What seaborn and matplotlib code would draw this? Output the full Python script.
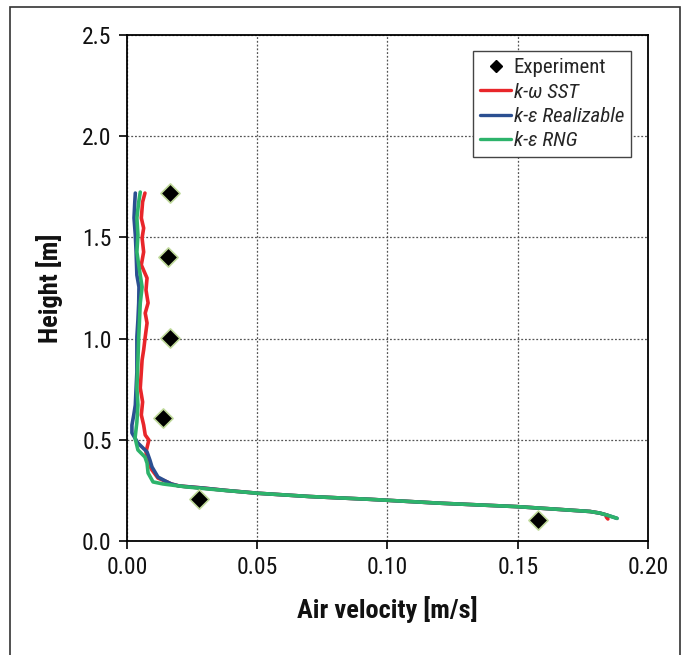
import matplotlib
matplotlib.use("Agg")
import matplotlib.pyplot as plt
from matplotlib.lines import Line2D
from matplotlib.patches import Rectangle
from matplotlib import font_manager
import pandas as pd
import seaborn as sns

# ---- measured data -------------------------------------------------------
exp_velocity = [0.0165, 0.0159, 0.0165, 0.0139, 0.0278, 0.1579]
exp_height = [1.721, 1.402, 1.001, 0.606, 0.206, 0.104]

# common near-floor tail of the simulated profiles (height, velocity)
tail_height = [0.272, 0.262, 0.250, 0.236, 0.220, 0.206, 0.187, 0.170, 0.157, 0.146, 0.138, 0.128]
tail_velocity = [0.0200, 0.0290, 0.0380, 0.0503, 0.0700, 0.0933, 0.1200, 0.1497, 0.1650, 0.1777, 0.1815, 0.1843]

sst_height = [1.719, 1.675, 1.596, 1.546, 1.497, 1.428, 1.364, 1.299, 1.240, 1.176, 1.126,
              1.077, 1.008, 0.944, 0.894, 0.835, 0.756, 0.687, 0.623, 0.573, 0.524, 0.499,
              0.440, 0.385, 0.351, 0.311, 0.292, 0.282] + tail_height + [0.118, 0.109]
sst_velocity = [0.0069, 0.0060, 0.0055, 0.0064, 0.0058, 0.0064, 0.0055, 0.0077, 0.0073, 0.0081,
                0.0070, 0.0077, 0.0070, 0.0064, 0.0058, 0.0055, 0.0051, 0.0060, 0.0055, 0.0064,
                0.0070, 0.0084, 0.0073, 0.0081, 0.0096, 0.0119, 0.0154, 0.0170] + tail_velocity + [0.1840, 0.1846]

real_height = [1.719, 1.675, 1.596, 1.512, 1.428, 1.314, 1.255, 1.176, 1.092, 1.008, 0.919,
               0.835, 0.756, 0.672, 0.623, 0.573, 0.534, 0.484, 0.440, 0.400, 0.366, 0.316,
               0.292, 0.282] + tail_height + [0.112]
real_velocity = [0.0032, 0.0030, 0.0027, 0.0032, 0.0035, 0.0038, 0.0046, 0.0045, 0.0042, 0.0038,
                 0.0038, 0.0038, 0.0035, 0.0032, 0.0026, 0.0019, 0.0019, 0.0042, 0.0077, 0.0088,
                 0.0096, 0.0119, 0.0154, 0.0170] + tail_velocity + [0.1881]

rng_height = [1.724, 1.675, 1.596, 1.512, 1.428, 1.364, 1.255, 1.176, 1.008, 0.894, 0.756,
              0.672, 0.588, 0.509, 0.450, 0.415, 0.385, 0.336, 0.292, 0.282, 0.267, 0.252,
              0.236, 0.220, 0.206, 0.187, 0.170, 0.157, 0.146, 0.138, 0.128, 0.112]
rng_velocity = [0.0051, 0.0045, 0.0038, 0.0042, 0.0038, 0.0045, 0.0058, 0.0051, 0.0045, 0.0042,
                0.0038, 0.0042, 0.0038, 0.0031, 0.0042, 0.0069, 0.0077, 0.0081, 0.0100, 0.0138,
                0.0230, 0.0357, 0.0503, 0.0700, 0.0933, 0.1200, 0.1497, 0.1650, 0.1777, 0.1815,
                0.1843, 0.1881]

models = ["k-ω SST", "k-ε Realizable", "k-ε RNG"]
model_colors = ["#e8262a", "#2b4f91", "#2db36b"]

x_ticks = [0.00, 0.05, 0.10, 0.15, 0.20]
y_ticks = [0.0, 0.5, 1.0, 1.5, 2.0, 2.5]

# ---- fonts: a narrow sans face with italic and bold --------------------------
sns.set_theme(style="white")
installed = {f.name for f in font_manager.fontManager.ttflist}
preferred = ["Roboto Condensed", "Fira Sans Condensed", "IBM Plex Sans Condensed",
             "Liberation Sans", "DejaVu Sans"]
families = [f for f in preferred if f in installed]
plt.rcParams["font.family"] = families

# ---- tidy frame for seaborn -------------------------------------------------
profiles = pd.concat([
    pd.DataFrame({"velocity": v, "height": h, "model": m})
    for m, v, h in zip(models,
                       [sst_velocity, real_velocity, rng_velocity],
                       [sst_height, real_height, rng_height])
], ignore_index=True)
experiment = pd.DataFrame({"velocity": exp_velocity, "height": exp_height})

fig = plt.figure(figsize=(6.89, 6.55), dpi=100)
ax = fig.add_axes([0.1843, 0.174, 0.7562, 0.7726])

sns.lineplot(data=profiles, x="velocity", y="height", hue="model",
             palette=dict(zip(models, model_colors)), hue_order=models,
             sort=False, estimator=None, linewidth=2.6, legend=False, ax=ax, zorder=3)
sns.scatterplot(data=experiment, x="velocity", y="height", marker="D", s=95,
                color="black", edgecolor="#bfd99a", linewidth=1.2, legend=False,
                ax=ax, zorder=4)

ax.set_xlim(0, 0.20)
ax.set_ylim(0, 2.5)
ax.set_xticks(x_ticks)
ax.set_yticks(y_ticks)
ax.set_xticklabels([f"{t:.2f}" for t in x_ticks], fontsize=17)
ax.set_yticklabels([f"{t:.1f}" for t in y_ticks], fontsize=17)
ax.tick_params(axis="both", which="major", direction="out", length=6, width=1.2,
               color="black", pad=5, labelcolor="#111111", bottom=True, left=True)

ax.grid(True, which="major", linestyle=(0, (1.5, 1.5)), color="#555555", linewidth=0.9)
ax.set_axisbelow(True)
for sp in ax.spines.values():
    sp.set_visible(True)
    sp.set_color("black")
    sp.set_linewidth(1.3)

ax.set_xlabel("Air velocity [m/s]", fontsize=19, fontweight="bold", labelpad=12, color="#111111")
ax.set_ylabel("Height [m]", fontsize=19, fontweight="bold", labelpad=14, color="#111111")

handles = [Line2D([], [], marker="D", color="black", linestyle="none", markersize=6)]
handles += [Line2D([], [], color=c, linewidth=2.4) for c in model_colors]
leg = ax.legend(handles, ["Experiment"] + models, loc="upper left",
                bbox_to_anchor=(0.664, 0.968), borderaxespad=0, fontsize=15,
                frameon=True, fancybox=False, framealpha=1, edgecolor="#444444",
                handlelength=1.5, handletextpad=0.1, labelspacing=0.25,
                borderpad=0.35)
leg.get_frame().set_linewidth(1.0)
for t in leg.get_texts()[1:]:
    t.set_style("italic")

# thin outer frame around the whole figure
fig.patches.append(Rectangle((10 / 689, -0.02), 670 / 689, 1.02 - 7 / 655,
                             transform=fig.transFigure, fill=False,
                             edgecolor="#333333", linewidth=1.2))

fig.savefig("out.png", dpi=100, facecolor="white")
